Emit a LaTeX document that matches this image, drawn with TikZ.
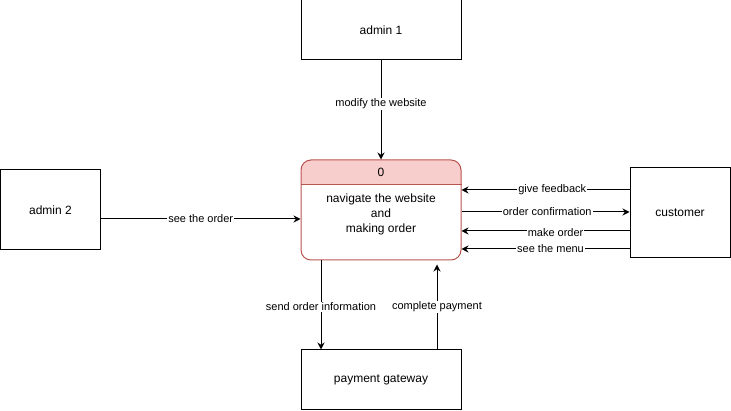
\documentclass[tikz,border=0pt]{standalone}
\usepackage{fontspec}
\setmainfont{Liberation Sans}
\usetikzlibrary{arrows.meta}

\definecolor{hdrred}{HTML}{F8CECC}
\definecolor{linered}{HTML}{B85450}

\tikzset{
    entity/.style={draw, line width=1pt, minimum width=160pt, minimum height=60pt,
        font=\fontsize{12}{14}\selectfont},
    procbox/.style={draw=linered, line width=1pt, rounded corners=10pt,
        minimum width=160pt, minimum height=100pt},
    flow/.style={-{Stealth[length=7pt,width=7pt]}, line width=1pt},
    lbl/.style={fill=white, inner sep=1pt, font=\fontsize{11}{13}\selectfont}
}

\begin{document}
\begin{tikzpicture}[x=1pt, y=-1pt]
    \useasboundingbox (0,0) rectangle (731,411);
    % draw the entities
    \node[entity] (admin1) at (381,30) {admin 1};
    \node[entity, minimum width=100pt, minimum height=80pt] (admin2) at (50.5,210) {admin 2};
    \node[entity, minimum width=100pt, minimum height=90pt] (cust) at (680,213) {customer};
    \node[entity] (pay) at (381,380) {payment gateway};
    % draw the process
    \begin{scope}
        \clip (301,160) rectangle (461,185);
        \fill[hdrred, rounded corners=10pt] (301,160) rectangle (461,260);
    \end{scope}
    \node[procbox] (proc) at (381,210) {};
    \draw[linered, line width=1pt] (proc.west |- 0,185) -- (proc.east |- 0,185);
    \node[font=\fontsize{12}{14}\selectfont] (pnum) at (381,172) {0};
    \node[font=\fontsize{12}{15}\selectfont, align=center] (ptext) at (381,214)
        {navigate the website\\and\\making order};
    % draw the flows
    \draw[flow] (admin1) -- node[lbl, pos=0.44] {modify the website} (proc);
    \draw[flow] (admin2.east |- 0,219) -- node[lbl] {see the order} (proc.west |- 0,219);
    \draw[flow] (cust.west |- 0,190) -- node[lbl, pos=0.46] {give feedback} (proc.east |- 0,190);
    \draw[flow] (proc.east |- 0,212) -- node[lbl, pos=0.51] {order confirmation} (cust.west |- 0,212);
    \draw[flow] (cust.west |- 0,231) -- node[lbl, pos=0.44, yshift=-2pt] {make order} (proc.east |- 0,231);
    \draw[flow] (cust.west |- 0,249) -- node[lbl, pos=0.47] {see the menu} (proc.east |- 0,249);
    \draw[flow] (proc.south -| 321,0) -- node[lbl, pos=0.52] {send order information} (pay.north -| 321,0);
    \draw[flow, shorten >=4pt] (pay.north -| 437,0) -- node[lbl, pos=0.48] {complete payment} (proc.south -| 437,0);
\end{tikzpicture}
\end{document}
